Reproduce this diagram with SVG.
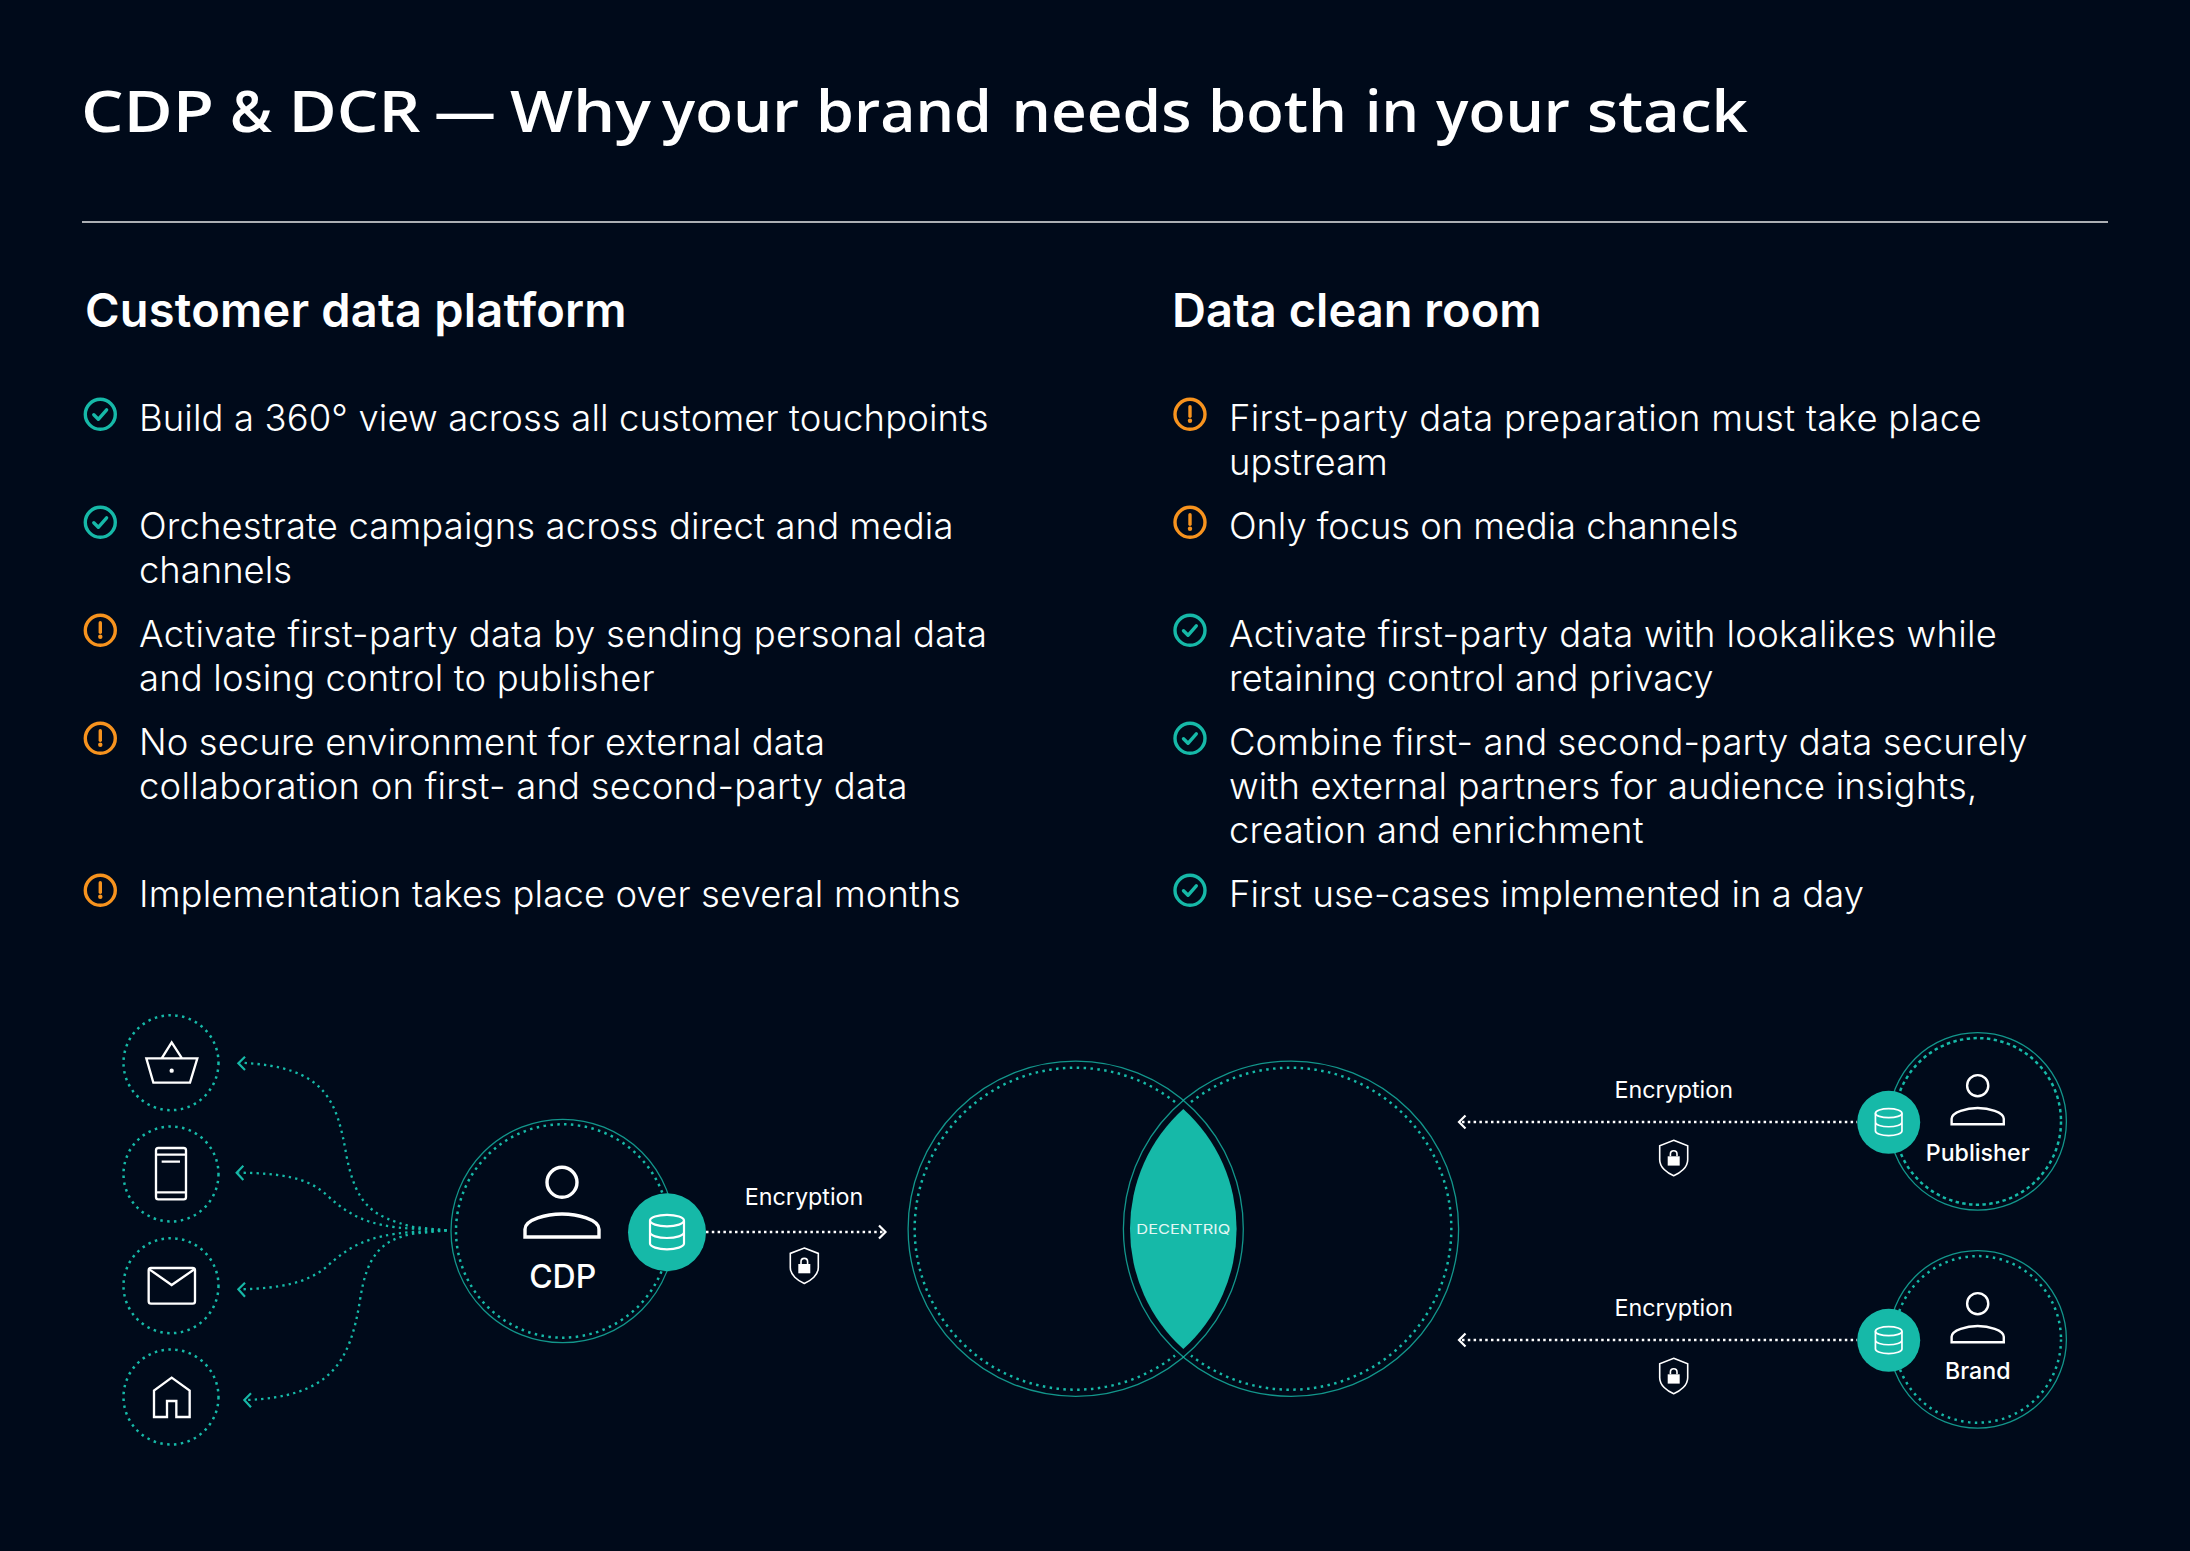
<svg xmlns="http://www.w3.org/2000/svg" width="2190" height="1551" viewBox="0 0 2190 1551">
<style>
text{fill:#fff;font-family:Inter,"Liberation Sans",sans-serif}
.title{font-family:"Open Sans","Liberation Sans",sans-serif;font-size:57px;font-weight:600}
.h{font-size:47px;font-weight:600}
.b{font-size:36.4px;font-weight:300}
.enc{font-size:23.300px;font-weight:400;text-anchor:middle}
.lbl{font-size:23.200px;font-weight:500;text-anchor:middle}
.thin{fill:none;stroke:#16b9a8;stroke-width:1.3;opacity:.8}
.dot{fill:none;stroke:#16b9a8;stroke-width:2.500;stroke-dasharray:2.500 4.400}
.wdot{fill:none;stroke:#fff;stroke-width:2.500;stroke-dasharray:2.500 3.300}
.ic{fill:none;stroke:#fff;stroke-width:3.400}
.db{fill:none;stroke:#fff;stroke-width:2.200}
.ok{fill:none;stroke:#16b9a8;stroke-width:3.400;stroke-linecap:round;stroke-linejoin:round}
.warn{fill:none;stroke:#f7931e;stroke-width:3.400;stroke-linecap:round}
.curve{fill:none;stroke:#16b9a8;stroke-width:7;stroke-dasharray:7 12.500}
.sm{fill:none;stroke:#fff;stroke-width:7}
</style>
<defs>
<g id="check"><circle class="ok" r="15"/><path class="ok" d="M-6.500 .5L-2 5L6.300-4.500"/></g>
<g id="alert"><circle class="warn" r="15"/><path class="warn" d="M0-7.500V2"/><circle cy="6.500" r="2.200" fill="#f7931e"/></g>
<g id="person"><circle class="ic" r="15"/><path class="ic" d="M-37 54.700V47C-37 37 -15 31.700 0 31.700C15 31.700 37 37 37 47V54.700Z"/></g>
<g id="db"><ellipse class="db" cy="-11.700" rx="17" ry="5.700"/><path class="db" d="M-17-11.700V11.300C-17 14.500 -9 17 0 17C9 17 17 14.500 17 11.300V-11.700M-17 0C-17 3.200 -9 5.700 0 5.700C9 5.700 17 3.200 17 0"/></g>
<g id="shield"><path fill="none" stroke="#fff" stroke-width="1.600" d="M0-17.700L14-12.300V1.700C14 9.300 6.700 15 0 17.700C-6.700 15 -14 9.300 -14 1.700V-12.300Z"/><rect x="-6" y="-1.700" width="12" height="9.300" fill="#fff"/><path fill="none" stroke="#fff" stroke-width="1.600" d="M-3.300-1.700V-4A3.300 3.300 0 0 1 3.300-4V-1.700"/></g>
</defs>
<rect width="2190" height="1551" fill="#000a1a"/>
<text id="title" class="title" y="132"><tspan x="81" textLength="133" lengthAdjust="spacingAndGlyphs">CDP</tspan> <tspan x="230" textLength="42" lengthAdjust="spacingAndGlyphs">&amp;</tspan> <tspan x="288.500" textLength="132" lengthAdjust="spacingAndGlyphs">DCR</tspan> <tspan x="434" textLength="62" lengthAdjust="spacingAndGlyphs">—</tspan> <tspan x="510" textLength="141" lengthAdjust="spacingAndGlyphs">Why</tspan> <tspan x="662" textLength="137" lengthAdjust="spacingAndGlyphs">your</tspan> <tspan x="816" textLength="176" lengthAdjust="spacingAndGlyphs">brand</tspan> <tspan x="1011.500" textLength="180" lengthAdjust="spacingAndGlyphs">needs</tspan> <tspan x="1208" textLength="139" lengthAdjust="spacingAndGlyphs">both</tspan> <tspan x="1365" textLength="54" lengthAdjust="spacingAndGlyphs">in</tspan> <tspan x="1436" textLength="134" lengthAdjust="spacingAndGlyphs">your</tspan> <tspan x="1587" textLength="161" lengthAdjust="spacingAndGlyphs">stack</tspan></text>
<line x1="82" y1="222" x2="2108" y2="222" stroke="#fff" stroke-width="1.500" opacity=".9"/>
<g id="cdp-column">
<text class="h" x="85" y="327" textLength="541.700">Customer data platform</text>
<use href="#check" x="100.300" y="414.300"/><text class="b" x="139" y="431" textLength="849.500">Build a 360° view across all customer touchpoints</text>
<use href="#check" x="100.300" y="522.300"/><text class="b" x="139" y="538.500" textLength="814.500">Orchestrate campaigns across direct and media</text><text class="b" x="139" y="582.500">channels</text>
<use href="#alert" x="100.300" y="630.300"/><text class="b" x="139" y="646.700" textLength="848">Activate first-party data by sending personal data</text><text class="b" x="139" y="690.700" textLength="515.700">and losing control to publisher</text>
<use href="#alert" x="100.300" y="738.300"/><text class="b" x="139" y="754.700" textLength="686">No secure environment for external data</text><text class="b" x="139" y="798.700" textLength="768.500">collaboration on first- and second-party data</text>
<use href="#alert" x="100.300" y="890.300"/><text class="b" x="139" y="906.700" textLength="821.500">Implementation takes place over several months</text>
</g>
<g id="dcr-column">
<text class="h" x="1172" y="327" textLength="369.600">Data clean room</text>
<use href="#alert" x="1190" y="414.300"/><text class="b" x="1229" y="431" textLength="752.500">First-party data preparation must take place</text><text class="b" x="1229" y="475">upstream</text>
<use href="#alert" x="1190" y="522.300"/><text class="b" x="1229" y="538.500" textLength="509.500">Only focus on media channels</text>
<use href="#check" x="1190" y="630.300"/><text class="b" x="1229" y="646.700" textLength="767.900">Activate first-party data with lookalikes while</text><text class="b" x="1229" y="690.700" textLength="484.400">retaining control and privacy</text>
<use href="#check" x="1190" y="738.300"/><text class="b" x="1229" y="754.700" textLength="798.600">Combine first- and second-party data securely</text><text class="b" x="1229" y="798.700" textLength="748.300">with external partners for audience insights,</text><text class="b" x="1229" y="842.700" textLength="414.500">creation and enrichment</text>
<use href="#check" x="1190" y="890.300"/><text class="b" x="1229" y="906.700" textLength="635">First use-cases implemented in a day</text>
</g>
<g id="connectors">
<g transform="translate(80 1000) scale(.33333)">
<path class="curve" d="M1100 691L1000 681C880 650 830 620 800 470C770 300 740 200 480 188"/>
<path class="curve" d="M1100 691L1000 686C860 680 800 640 740 585C680 530 600 520 475 518"/>
<path class="curve" d="M1100 691L1000 696C860 705 800 745 740 800C680 850 600 865 480 868"/>
<path class="curve" d="M1100 691L1000 701C900 720 860 770 840 900C810 1090 750 1190 500 1200"/>
<path fill="none" stroke="#16b9a8" stroke-width="6.500" d="M495 170L475 190L495 210M490 497L470 518L490 540M495 848L475 868L495 890M513 1180L493 1200L513 1222"/>
</g>
<path class="wdot" d="M706 1232H883"/>
<path fill="none" stroke="#fff" stroke-width="2.200" d="M879 1225.500L885.500 1232L879 1238.500"/>
<path class="wdot" d="M1462 1122H1857"/>
<path fill="none" stroke="#fff" stroke-width="2.200" d="M1465.500 1115.500L1459 1122L1465.500 1128.500"/>
<path class="wdot" d="M1462 1340H1857"/>
<path fill="none" stroke="#fff" stroke-width="2.200" d="M1465.500 1333.500L1459 1340L1465.500 1346.500"/>
</g>
<g id="node-basket"><circle class="dot" cx="171" cy="1062.700" r="47.500"/>
<g transform="translate(80 1000) scale(.33333)"><path class="sm" d="M199 175H352L330 248H220ZM245 175L275 127L306 175"/><circle cx="275" cy="212" r="6.500" fill="#fff"/></g></g>
<g id="node-phone"><circle class="dot" cx="171" cy="1174" r="47.500"/>
<g transform="translate(80 1000) scale(.33333)"><rect class="sm" x="228" y="444" width="90" height="154" rx="7"/><path class="sm" d="M228 464H318M228 577H318M245 485H300"/></g></g>
<g id="node-mail"><circle class="dot" cx="171" cy="1285.700" r="47.500"/>
<g transform="translate(80 1000) scale(.33333)"><rect class="sm" x="206" y="804" width="139" height="107" rx="7"/><path class="sm" d="M208 808L275 855L343 808"/></g></g>
<g id="node-home"><circle class="dot" cx="171" cy="1397" r="47.500"/>
<g transform="translate(80 1000) scale(.33333)"><path class="sm" d="M222 1251V1172L275 1133L329 1172V1251H289V1203H261V1251Z"/></g></g>
<g id="node-cdp"><circle class="thin" cx="562.700" cy="1231" r="111.700"/><circle class="dot" cx="562.700" cy="1231" r="106.700"/>
<use href="#person" x="562" y="1182.300"/>
<text class="lbl" x="562.700" y="1288" style="font-size:32px">CDP</text>
<circle cx="667" cy="1232.300" r="39" fill="#16b9a8"/><use href="#db" x="667" y="1232.300"/></g>
<g id="label-encryption-cdp"><text class="enc" x="804" y="1205">Encryption</text><use href="#shield" x="804.300" y="1265.700"/></g>
<g id="node-venn">
<circle class="thin" cx="1075.700" cy="1228.700" r="167.600"/><circle class="thin" cx="1291" cy="1228.700" r="167.600"/>
<path class="dot" d="M1175 1102A161 161 0 1 0 1175 1355.400"/>
<path class="dot" d="M1191 1102A161 161 0 1 1 1191 1355.400"/>
<path fill="#16b9a8" d="M1183.300 1109A161.700 161.700 0 0 1 1183.300 1349A161.700 161.700 0 0 1 1183.300 1109Z"/>
<text x="1183.300" y="1234.300" text-anchor="middle" textLength="94" lengthAdjust="spacingAndGlyphs" style="font-size:13.500px;font-weight:400;fill:#e3f7f4">DECENTRIQ</text>
</g>
<g id="label-encryption-publisher"><text class="enc" x="1673.700" y="1098.300">Encryption</text><use href="#shield" x="1673.700" y="1158"/></g>
<g id="node-publisher"><circle class="thin" cx="1977.700" cy="1121.400" r="88.700"/><circle class="dot" style="stroke-dasharray:3.400 3.400" cx="1977.700" cy="1121.400" r="83.300"/>
<use href="#person" transform="translate(1977.700 1085.700) scale(.705)"/>
<text class="lbl" x="1977.700" y="1161">Publisher</text>
<circle cx="1888.700" cy="1122.300" r="31.500" fill="#16b9a8"/><use href="#db" transform="translate(1888.700 1122.300) scale(.78)"/></g>
<g id="label-encryption-brand"><text class="enc" x="1673.700" y="1316.300">Encryption</text><use href="#shield" x="1673.700" y="1376"/></g>
<g id="node-brand"><circle class="thin" cx="1977.700" cy="1339.400" r="88.700"/><circle class="dot" cx="1977.700" cy="1339.400" r="83.300"/>
<use href="#person" transform="translate(1977.700 1303.700) scale(.705)"/>
<text class="lbl" x="1977.700" y="1379">Brand</text>
<circle cx="1888.700" cy="1340.300" r="31.500" fill="#16b9a8"/><use href="#db" transform="translate(1888.700 1340.300) scale(.78)"/></g>
</svg>
